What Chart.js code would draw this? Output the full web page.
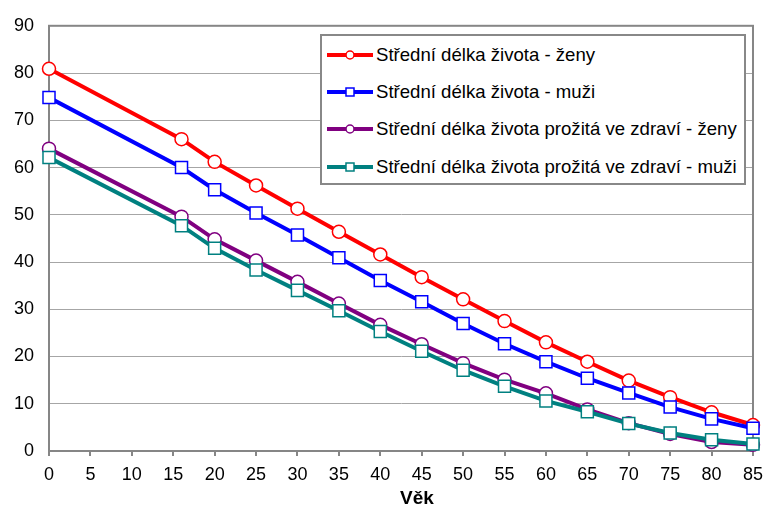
<!DOCTYPE html>
<html>
<head>
<meta charset="utf-8">
<script src="https://cdn.jsdelivr.net/npm/chart.js@4.4.1/dist/chart.umd.min.js"></script>
<style>
  body { margin: 0; background: #fff; font-family: "Liberation Sans", Arial, sans-serif; }
  #wrap { position: relative; width: 771px; height: 507px; }
  #legend {
    position: absolute; left: 320px; top: 34px; width: 426px; height: 151px;
    box-sizing: border-box; border: 2px solid #888; background: #fff;
  }
  .row { height: 37.3px; display: flex; align-items: center; font-size: 18.6px; color: #000; white-space: nowrap; }
  .row svg { margin-left: 5px; margin-right: 3px; flex: none; }
  #xTitle {
    position: absolute; left: 367px; width: 100px; top: 487px; text-align: center;
    font-weight: bold; font-size: 19px; color: #000;
  }
</style>
</head>
<body>
<div id="wrap">
  <canvas id="myGraph" width="771" height="507"></canvas>
  <div id="legend"></div>
  <div id="xTitle">Věk</div>
</div>
<script>
// vek a hodnoty
const ages = [0, 16, 20, 25, 30, 35, 40, 45, 50, 55, 60, 65, 70, 75, 80, 85];
const zenyLE = [80.9, 66.0, 61.2, 56.2, 51.3, 46.4, 41.6, 36.8, 32.1, 27.5, 23.0, 18.9, 14.9, 11.4, 8.2, 5.5];
const muziLE = [74.8, 60.0, 55.3, 50.4, 45.7, 40.9, 36.1, 31.6, 27.0, 22.7, 18.9, 15.4, 12.3, 9.3, 6.8, 4.8];
const zenyHLE = [64.0, 49.6, 44.8, 40.3, 35.8, 31.2, 26.7, 22.6, 18.6, 15.1, 12.2, 8.8, 5.9, 3.6, 1.9, 1.3];
const muziHLE = [62.1, 47.7, 42.9, 38.3, 34.0, 29.7, 25.3, 21.1, 17.1, 13.7, 10.6, 8.3, 5.8, 3.8, 2.4, 1.5];

const seriesLabels = [
  'Střední délka života - ženy',
  'Střední délka života - muži',
  'Střední délka života prožitá ve zdraví - ženy',
  'Střední délka života prožitá ve zdraví - muži'
];
const seriesValues = [zenyLE, muziLE, zenyHLE, muziHLE];
const seriesColors = ['#ff0000', '#0000ff', '#800080', '#008080'];
const seriesMarkers = ['circle', 'rect', 'circle', 'rect'];

const AXIS_GRAY = '#868686';
const GRID_GRAY = '#a6a6a6';
const FONT = '"Liberation Sans", Arial, sans-serif';

function toPoints(values) {
  return values.map((v, i) => ({ x: ages[i], y: v }));
}

const datasets = seriesValues.map((vals, i) => ({
  label: seriesLabels[i],
  data: toPoints(vals),
  borderColor: seriesColors[i],
  backgroundColor: '#ffffff',
  borderWidth: 4,
  pointStyle: seriesMarkers[i],
  pointRadius: seriesMarkers[i] === 'rect' ? 8.5 : 6.5,
  pointBorderWidth: 1.5,
  pointBackgroundColor: '#ffffff',
  pointBorderColor: seriesColors[i],
  tension: 0,
  clip: false,
  order: seriesValues.length - i   // pozdejsi serie kresli navrch jako v Excelu
}));

// ramecek kolem plochy grafu
const plotBorder = {
  id: 'plotBorder',
  beforeDatasetsDraw(chart) {
    const { ctx, chartArea: a } = chart;
    ctx.save();
    ctx.strokeStyle = AXIS_GRAY;
    ctx.lineWidth = 2;
    ctx.strokeRect(a.left, a.top, a.right - a.left, a.bottom - a.top);
    ctx.restore();
  }
};

const graph = document.getElementById('myGraph');
const chart = new Chart(graph, {
  type: 'line',
  data: { datasets: datasets },
  plugins: [plotBorder],
  options: {
    responsive: false,
    animation: false,
    layout: { padding: { left: 0, top: 22, right: 12, bottom: 0 } },
    plugins: { legend: { display: false }, tooltip: { enabled: false } },
    scales: {
      x: {
        type: 'linear',
        min: 0, max: 85,
        afterFit: (s) => { s.height = 56; },
        border: { color: AXIS_GRAY, width: 2 },
        grid: { drawOnChartArea: false, drawTicks: true, tickLength: 5, color: AXIS_GRAY, lineWidth: 2 },
        ticks: { stepSize: 5, padding: 8, color: '#000', font: { size: 18, family: FONT } }
      },
      y: {
        min: 0, max: 90,
        afterFit: (s) => { s.width = 49; },
        border: { color: AXIS_GRAY, width: 2 },
        grid: { color: GRID_GRAY, lineWidth: 1, drawTicks: false },
        ticks: { stepSize: 10, padding: 15, color: '#000', font: { size: 18, family: FONT } }
      }
    }
  }
});

// legenda uvnitr grafu
const legend = document.getElementById('legend');
seriesLabels.forEach((label, i) => {
  const row = document.createElement('div');
  row.className = 'row';
  const c = seriesColors[i];
  const marker = seriesMarkers[i] === 'rect'
    ? `<rect x="19" y="2" width="8" height="8" fill="#fff" stroke="${c}" stroke-width="1.5"/>`
    : `<circle cx="23" cy="6" r="4" fill="#fff" stroke="${c}" stroke-width="1.5"/>`;
  row.innerHTML = `<svg width="46" height="12"><line x1="0" y1="6" x2="46" y2="6" stroke="${c}" stroke-width="4"/>${marker}</svg><span>${label}</span>`;
  legend.appendChild(row);
});
</script>
</body>
</html>
